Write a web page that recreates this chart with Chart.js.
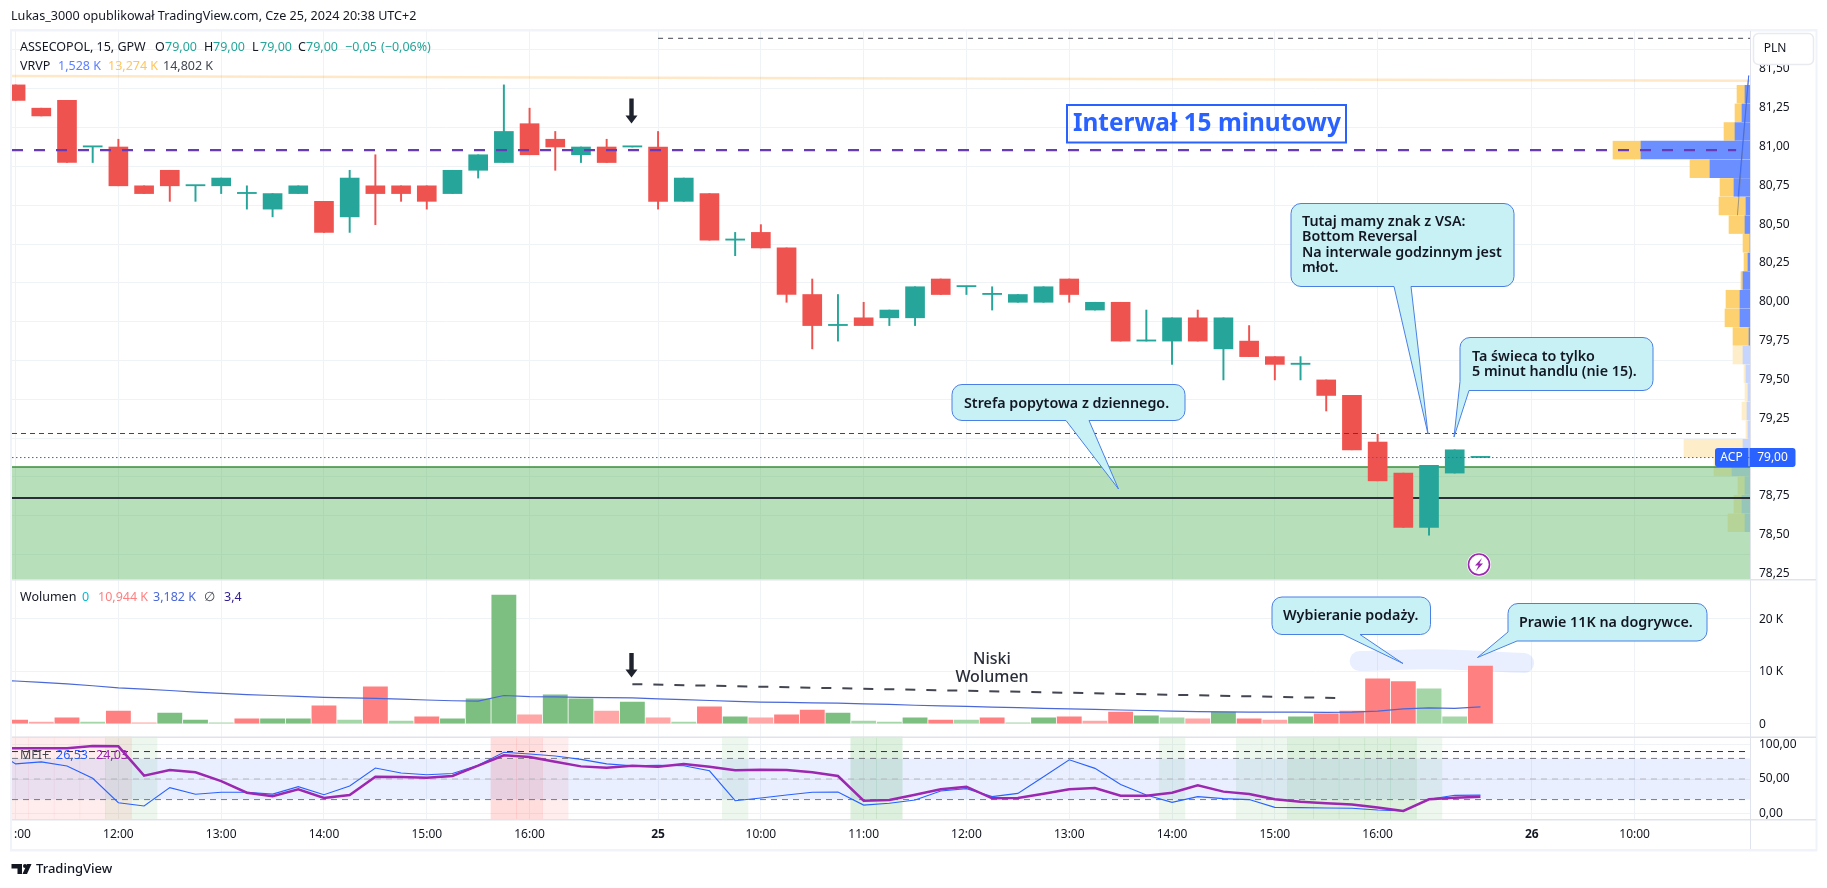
<!DOCTYPE html>
<html><head><meta charset="utf-8">
<style>html,body{margin:0;padding:0;background:#fff;overflow:hidden}canvas{display:block}</style>
<script src="https://cdn.jsdelivr.net/npm/chart.js@4/dist/chart.umd.js"></script>
</head><body>
<div style="position:absolute;left:0;top:0;width:1827px;height:888px"><canvas id="c" width="1827" height="888"></canvas></div>
<script>
const firstBar = -4;
const opens  = [81.40,81.25,81.30,81.00,81.00,80.75,80.85,80.75,80.75,80.70,80.60,80.70,80.65,80.55,80.75,80.75,80.75,80.70,80.85,80.90,81.15,81.05,80.95,81.00,81.00,81.00,80.65,80.70,80.40,80.45,80.35,80.05,79.85,79.90,79.90,79.90,80.15,80.10,80.05,80.00,80.00,80.15,79.95,80.00,79.75,79.75,79.90,79.70,79.75,79.65,79.60,79.50,79.40,79.10,78.90,78.55,78.90,79.00];
const highs  = [81.40,81.25,81.30,81.00,81.05,80.75,80.85,80.75,80.80,80.75,80.70,80.75,80.65,80.85,80.95,80.75,80.75,80.85,80.95,81.40,81.25,81.10,81.00,81.05,81.00,81.10,80.80,80.70,80.45,80.50,80.35,80.15,80.05,80.00,79.95,80.10,80.15,80.10,80.10,80.05,80.10,80.15,80.00,80.00,79.95,79.90,79.95,79.90,79.85,79.65,79.65,79.50,79.40,79.15,78.90,78.95,79.05,79.00];
const lows   = [81.30,81.20,80.90,80.90,80.75,80.70,80.65,80.65,80.70,80.60,80.55,80.70,80.45,80.45,80.50,80.65,80.60,80.70,80.80,80.90,80.95,80.85,80.90,80.90,81.00,80.60,80.65,80.40,80.30,80.35,80.00,79.70,79.75,79.85,79.85,79.85,80.05,80.05,79.95,80.00,80.00,80.00,79.95,79.75,79.75,79.60,79.75,79.50,79.65,79.50,79.50,79.30,79.05,78.85,78.55,78.50,78.90,79.00];
const closes = [81.30,81.20,80.90,81.00,80.75,80.70,80.75,80.75,80.80,80.70,80.70,80.75,80.45,80.80,80.70,80.70,80.65,80.85,80.95,81.10,80.95,81.00,81.00,80.90,81.00,80.65,80.80,80.40,80.40,80.35,80.05,79.85,79.85,79.85,79.95,80.10,80.05,80.10,80.05,80.05,80.10,80.05,80.00,79.75,79.75,79.90,79.75,79.90,79.65,79.60,79.60,79.40,79.05,78.85,78.55,78.95,79.05,79.00];

const volumes = [0.7,0.3,1.1,0.3,2.4,0.15,2.0,0.7,0.15,0.9,0.9,0.9,3.4,0.7,7.0,0.5,1.3,0.9,4.7,24.4,1.7,5.5,4.7,2.4,4.1,1.1,0.3,3.2,1.3,1.1,1.7,2.6,2.0,0.5,0.3,1.1,0.7,0.7,1.1,0.15,1.1,1.3,0.5,2.2,1.5,1.1,0.9,2.2,0.9,0.7,1.3,1.85,2.4,8.5,8.0,6.6,1.3,10.944];
const volumeKinds = ['R','r','R','g','R','r','G','G','g','R','G','G','R','g','R','g','R','G','G','G','r','G','G','r','G','r','g','R','G','r','R','R','G','g','g','G','R','g','R','g','G','R','r','R','G','g','r','G','R','r','G','R','R','R','R','g','g','R'];
const volumeMa = [8.1,7.85,7.55,7.2,6.8,6.55,6.3,6.0,5.75,5.5,5.35,5.2,5.0,4.9,4.8,4.65,4.5,4.35,4.3,5.35,5.15,5.1,5.0,4.95,4.9,4.7,4.55,4.4,4.25,4.1,4.05,3.95,3.9,3.75,3.65,3.5,3.4,3.3,3.15,3.05,2.9,2.8,2.7,2.6,2.5,2.4,2.3,2.25,2.2,2.2,2.2,2.15,2.2,2.4,2.8,3.0,2.9,3.18];
const volumeMaLead = 8.4;
const volumeTrendBars = [20,47.7];
const volumeTrendValues = [7.5,4.84];
const highlightBars = [48.3,51.5,54.7];
const highlightValues = [11.9,12.2,11.5];

const mfiFast = [72,75,69,51,15.5,10.7,37.4,27.7,30.6,30.6,28,38.8,27,39.8,66,58.7,56.3,58,70,89,86.4,83.5,78.6,72,69.4,70,69.4,62,18.4,22.3,26.7,30.6,31,12,14.6,19.4,32.5,36,24.3,29,53.4,78,65.5,42,26.7,16,24.3,21.4,20,8.7,8.3,7.8,7.3,4.9,3.4,20.4,26.2,26.53];
const mfiSlow = [95,95,95,98,97.6,54.9,63,59.7,47,30,25,35,22.3,26.7,53.4,53,52,54.4,69.4,84.5,82,75,68.4,66.5,69.4,68,72,68,62.6,63.6,63,59.7,54.4,18.4,19.4,27,35,38.8,21.8,22.3,28.6,35,36.9,25.7,25.7,30,40.8,31.6,28,20.4,17,14.6,13,8.3,3.4,20.4,22.8,24.03];
const mfiFastLead = 96;
const mfiSlowLead = 95;
const mfiRedA = [-4,-3,-2,-1,0,15,16,17];
const mfiRedB = [15,16];
const mfiGreenA = [0,1,24,29,30,41,44,45,46,47,48,49,50,51];
const mfiGreenB = [29,30,46,47,48,49,50];
const mfiLevelsGray = [80,50,20];

const vpPrices = [81.34,81.22,81.10,80.98,80.86,80.74,80.62,80.50,80.38,80.26,80.14,80.02,79.90,79.78,79.66,79.54,79.42,79.30,79.18,79.06,78.94,78.82,78.70,78.58];
const vpUp     = [5,8,15,109,40,16,4,5,0,2,7,10,10,1,7,4,2,3,2,7,18,5,8,5];
const vpDown   = [8,7,11,28,20,14,27,16,7,4,2,14,15,16,10,2,3,5,2,59,18,7,8,17];
const vpStrong = [1,1,1,1,1,1,1,1,1,1,1,1,1,1,0,0,0,0,0,0,0,0,0,0];

const priceTicks = [81.5,81.25,81,80.75,80.5,80.25,80,79.75,79.5,79.25,79,78.75,78.5,78.25];
const volumeTicks = [20,10,0];
const mfiTicks = [100,50,0];
const timeTickBars = [-4,0,4,8,12,16,21,25,29,33,37,41,45,49,55,59];
const timeTickLabels = ['11:00','12:00','13:00','14:00','15:00','16:00','25','10:00','11:00','12:00','13:00','14:00','15:00','16:00','26','10:00'];
const dayLabels = ['25','26'];

const pocPrice = 80.98, topDashPrice = 81.70, resistPrice = 79.155, lastPrice = 79.00;
const zoneTop = 78.94, zoneMid = 78.74;
const orangeLine = [81.457,81.427];
const xMin = -4.14, xMax = 63.49;

const F = '"Noto Sans"';
const RED='#ef5350', TEAL='#26a69a';
const bars = opens.map((_,k)=>k+firstBar);
const span = (p,pv)=>[{x:xMin,y:p},{x:xMax,y:pv===undefined?p:pv}];
const volCol = {R:'#ff8080',r:'#ffa6a6',G:'#7dbf80',g:'#a5d6a7'};
const line = (data,extra)=>Object.assign({type:'line',data,pointRadius:0,borderWidth:1,fill:false,tension:0},extra);
const grid = '#f0f3f6';

function txt(ctx,s,x,y,font,color,align){ctx.font=font;ctx.fillStyle=color;ctx.textAlign=align||'left';ctx.textBaseline='middle';ctx.fillText(s,x,y);}
function callout(ctx,b,lines,font,lh){
  const {x,y,w,h,r,base,tip,corner}=b;
  ctx.beginPath();ctx.moveTo(x+r,y);
  ctx.arcTo(x+w,y,x+w,y+h,r);ctx.arcTo(x+w,y+h,x,y+h,r);
  ctx.lineTo(base[0][0],base[0][1]);ctx.lineTo(tip[0],tip[1]);ctx.lineTo(base[1][0],base[1][1]);
  if(!corner){ctx.arcTo(x,y+h,x,y,r);}
  ctx.arcTo(x,y,x+w,y,r);ctx.closePath();
  ctx.fillStyle='#c8f1f6';ctx.fill();ctx.strokeStyle='#4a7fe6';ctx.lineWidth=1;ctx.stroke();
  lines.forEach((t,i)=>txt(ctx,t.s,t.x,t.y,font,'#131722'));
}
function arrow(ctx,cx,top,bot){
  ctx.fillStyle='#1e222d';ctx.beginPath();
  ctx.moveTo(cx-2.2,top);ctx.lineTo(cx+2.2,top);ctx.lineTo(cx+2.2,bot-8);ctx.lineTo(cx+6,bot-8);ctx.lineTo(cx,bot);ctx.lineTo(cx-6,bot-8);ctx.lineTo(cx-2.2,bot-8);ctx.closePath();ctx.fill();
}
const overlay={id:'overlay',afterDatasetsDraw(chart){
  const ctx=chart.ctx;ctx.save();
  arrow(ctx,631.5,98.5,123.5);arrow(ctx,631.5,653,677.5);
  ctx.strokeStyle='#2962ff';ctx.lineWidth=2;ctx.strokeRect(1067,105,279,37.5);
  txt(ctx,'Interwał 15 minutowy',1073,124,'bold 24.4px '+F,'#2962ff');
  const cf='600 14.3px '+F;
  callout(ctx,{x:1291,y:203.5,w:223,h:83,r:10,base:[[1411,286.5],[1394,286.5]],tip:[1428,434]},[
    {s:'Tutaj mamy znak z VSA:',x:1302,y:221.5},{s:'Bottom Reversal',x:1302,y:237},{s:'Na interwale godzinnym jest',x:1302,y:252.5},{s:'młot.',x:1302,y:268}],cf);
  callout(ctx,{x:1460,y:337.5,w:193,h:53,r:10,base:[[1469,390.5],[1460,381.5]],tip:[1454,437],corner:true},[
    {s:'Ta świeca to tylko',x:1472,y:356.5},{s:'5 minut handlu (nie 15).',x:1472,y:371.5}],cf);
  callout(ctx,{x:952,y:384.5,w:233,h:36,r:10,base:[[1089,420.5],[1066,420.5]],tip:[1118.5,489]},[
    {s:'Strefa popytowa z dziennego.',x:964,y:403.5}],cf);
  callout(ctx,{x:1272,y:597,w:158.5,h:37.5,r:10,base:[[1360,634.5],[1343,634.5]],tip:[1403,663.5]},[
    {s:'Wybieranie podaży.',x:1283,y:616}],cf);
  callout(ctx,{x:1508,y:603.5,w:199,h:37.5,r:10,base:[[1517,641],[1508,632]],tip:[1477.5,657.5],corner:true},[
    {s:'Prawie 11K na dogrywce.',x:1519,y:622.5}],cf);
  txt(ctx,'Niski',992,659.5,'500 16px '+F,'#2a2e39','center');
  txt(ctx,'Wolumen',992,677,'500 16px '+F,'#2a2e39','center');
  ctx.beginPath();ctx.arc(1479,564.5,12,0,Math.PI*2);ctx.fillStyle='#fff';ctx.fill();
  ctx.beginPath();ctx.arc(1479,564.5,10.5,0,Math.PI*2);ctx.strokeStyle='#9c27b0';ctx.lineWidth=1.6;ctx.stroke();
  ctx.fillStyle='#9c27b0';ctx.beginPath();ctx.moveTo(1482,558);ctx.lineTo(1475,565.5);ctx.lineTo(1478.6,565.5);ctx.lineTo(1476,571);ctx.lineTo(1483,563.5);ctx.lineTo(1479.4,563.5);ctx.closePath();ctx.fill();
  ctx.restore();
},afterDraw(chart){
  const ctx=chart.ctx;ctx.save();
  // mask the clipped first time label and pane edges
  ctx.fillStyle='#fff';ctx.fillRect(0,821,13.7,27);
  ctx.fillStyle='#f0f3fa';
  ctx.fillRect(10,29,1807,2.5);ctx.fillRect(10,849,1807,2.5);ctx.fillRect(10,29,2,822);ctx.fillRect(1815.5,29,2,822);
  ctx.fillStyle='#e0e3eb';
  ctx.fillRect(12,579,1804,1.5);ctx.fillRect(12,736.5,1804,1.5);ctx.fillRect(12,819,1804,1.5);ctx.fillRect(1750,31,1,818);
  txt(ctx,'Lukas_3000 opublikował TradingView.com, Cze 25, 2024 20:38 UTC+2',11,16,'12.6px '+F,'#131722');
  const g='#26a69a',d='#131722',sf='12.5px '+F;
  [['ASSECOPOL, 15, GPW',20,d],['O',155,d],['79,00',165,g],['H',204,d],['79,00',213,g],['L',252,d],['79,00',260,g],['C',298,d],['79,00',306,g],['−0,05',345,g],['(−0,06%)',381,g]].forEach(t=>txt(ctx,t[0],t[1],47,sf,t[2]));
  [['VRVP',20,d],['1,528 K',58,'#5b7fff'],['13,274 K',108,'#ffc65c'],['14,802 K',163,'#434651']].forEach(t=>txt(ctx,t[0],t[1],66.5,sf,t[2]));
  [['Wolumen',20,d],['0',82,'#00bcd4'],['10,944 K',98,'#ff8080'],['3,182 K',153,'#4a68d8'],['∅',204,'#434651'],['3,4',224,'#311b92']].forEach(t=>txt(ctx,t[0],t[1],597,sf,t[2]));
  [['MFI+',20,'#434651'],['26,53',56,'#2962ff'],['24,03',96,'#9c27b0']].forEach(t=>txt(ctx,t[0],t[1],755.5,sf,t[2]));
  ctx.fillStyle='#fff';ctx.strokeStyle='#e8eaf0';ctx.lineWidth=1.5;ctx.beginPath();ctx.roundRect(1753.5,33.5,60,31,5);ctx.fill();ctx.stroke();
  txt(ctx,'PLN',1775,48.5,'12px '+F,'#131722','center');
  ctx.fillStyle='#2962ff';ctx.beginPath();ctx.roundRect(1715,448,33.5,19,[3,0,0,3]);ctx.fill();
  ctx.beginPath();ctx.roundRect(1749.5,448,46,19,[0,3,3,0]);ctx.fill();
  txt(ctx,'ACP',1731.5,457.5,'12px '+F,'#fff','center');
  txt(ctx,'79,00',1772.5,457.5,'12px '+F,'#fff','center');
  ctx.fillStyle='#131722';ctx.beginPath();
  ctx.moveTo(11.5,864);ctx.lineTo(22,864);ctx.lineTo(22,874);ctx.lineTo(17.5,874);ctx.lineTo(17.5,868.5);ctx.lineTo(11.5,868.5);ctx.closePath();ctx.fill();
  ctx.beginPath();ctx.arc(25,866,2,0,Math.PI*2);ctx.fill();
  ctx.beginPath();ctx.moveTo(31.5,864);ctx.lineTo(27,874);ctx.lineTo(22.5,874);ctx.lineTo(27,864);ctx.closePath();ctx.fill();
  txt(ctx,'TradingView',36,869,'500 13px '+F,'#131722');
  ctx.restore();
}};

const yBase={type:'linear',position:'right',stack:'panes',beginAtZero:false,offset:false,
  border:{display:false},afterFit(s){s.width=67;}};
const tickBase={color:'#131722',padding:9,autoSkip:false,font:{family:F,size:12}};

new Chart(document.getElementById('c'),{
  type:'bar',
  data:{datasets:[
    {label:'VRVP up',indexAxis:'y',xAxisID:'xVp',yAxisID:'y',grouped:false,order:95,barThickness:17.8,
      data:vpPrices.map((p,k)=>({y:p,x:[0,vpUp[k]]})),
      backgroundColor:vpStrong.map(s=>s?'#6b8fff':'#c6d5fd')},
    {label:'VRVP down',indexAxis:'y',xAxisID:'xVp',yAxisID:'y',grouped:false,order:95,barThickness:17.8,
      data:vpPrices.map((p,k)=>({y:p,x:[vpUp[k],vpUp[k]+vpDown[k]]})),
      backgroundColor:vpStrong.map(s=>s?'#fdd16f':'#fdedc9')},
    line(span(orangeLine[0],orangeLine[1]),{label:'orange',yAxisID:'y',borderColor:'rgba(255,152,0,.22)',borderWidth:2.5,order:92}),
    line(span(zoneTop),{label:'zone',yAxisID:'y',borderColor:'#388e3c',borderWidth:1.5,fill:'start',backgroundColor:'rgba(76,175,80,.4)',order:90}),
    line(span(zoneMid),{label:'zone mid',yAxisID:'y',borderColor:'#2a2e39',borderWidth:2,order:88}),
    line(span(topDashPrice).map((p,k)=>k?p:{x:21,y:p.y}),{label:'top dash',yAxisID:'y',borderColor:'#434651',borderDash:[5,5],order:87}),
    {label:'wicks',yAxisID:'y',grouped:false,order:60,barThickness:1.3,
      data:bars.map((b,k)=>({x:b,y:[lows[k],highs[k]]})),
      backgroundColor:opens.map((o,k)=>closes[k]>=o?TEAL:RED)},
    {label:'bodies',yAxisID:'y',grouped:false,order:50,barThickness:19,minBarLength:1.2,
      data:bars.map((b,k)=>({x:b,y:[opens[k],closes[k]]})),
      backgroundColor:opens.map((o,k)=>closes[k]>=o?TEAL:RED)},
    line([{x:xMin,y:resistPrice},{x:63.1,y:resistPrice}],{label:'resist',yAxisID:'y',borderColor:'#434651',borderDash:[5,4],order:30}),
    line([{x:xMin,y:pocPrice},{x:62.95,y:pocPrice}],{label:'poc',yAxisID:'y',borderColor:'#673ab7',borderWidth:2.3,borderDash:[11,11],order:20}),
    line(span(lastPrice),{label:'last',yAxisID:'y',borderColor:'#2962ff',borderDash:[1.5,2.5],order:18}),
    line([{x:63.03,y:80.68},{x:63.44,y:81.46}],{label:'vp blue',yAxisID:'y',borderColor:'#3f6cf5',order:16}),
    line([{x:63.0,y:80.56},{x:63.44,y:81.46}],{label:'vp grey',yAxisID:'y',borderColor:'rgba(120,123,134,.7)',order:17}),
    line(highlightBars.map((x,k)=>({x,y:highlightValues[k]})),{label:'highlight',yAxisID:'yVol',borderColor:'rgba(41,98,255,.1)',borderWidth:20,borderCapStyle:'round',tension:.4,order:70}),
    {label:'Wolumen',yAxisID:'yVol',grouped:false,order:65,barThickness:24.2,
      data:bars.map((b,k)=>({x:b,y:volumes[k]})),
      backgroundColor:volumeKinds.map(k=>volCol[k])},
    line([{x:firstBar-1,y:volumeMaLead}].concat(bars.map((b,k)=>({x:b,y:volumeMa[k]}))),{label:'vol ma',yAxisID:'yVol',borderColor:'#4a68d8',borderWidth:1.2,order:40}),
    line(volumeTrendBars.map((x,k)=>({x,y:volumeTrendValues[k]})),{label:'vol trend',yAxisID:'yVol',borderColor:'#434651',borderWidth:2,borderDash:[10,11],order:35}),
    {label:'red a',yAxisID:'yMfi',grouped:false,order:85,barThickness:25.7,data:mfiRedA.map(x=>({x,y:[-20,120]})),backgroundColor:'rgba(255,82,82,.1)'},
    {label:'red b',yAxisID:'yMfi',grouped:false,order:85,barThickness:25.7,data:mfiRedB.map(x=>({x,y:[-20,120]})),backgroundColor:'rgba(255,82,82,.1)'},
    {label:'green a',yAxisID:'yMfi',grouped:false,order:85,barThickness:25.7,data:mfiGreenA.map(x=>({x,y:[-20,120]})),backgroundColor:'rgba(76,175,80,.1)'},
    {label:'green b',yAxisID:'yMfi',grouped:false,order:85,barThickness:25.7,data:mfiGreenB.map(x=>({x,y:[-20,120]})),backgroundColor:'rgba(76,175,80,.1)'},
    line(span(mfiLevelsGray[0]),{label:'band',yAxisID:'yMfi',borderWidth:0,fill:{value:mfiLevelsGray[2]},backgroundColor:'rgba(41,98,255,.1)',order:84}),
    line(span(90),{label:'l90',yAxisID:'yMfi',borderColor:'#311b92',borderDash:[6,5],order:45}),
    line(span(mfiLevelsGray[0]),{label:'l80',yAxisID:'yMfi',borderColor:'#787b86',borderDash:[6,5],order:45}),
    line(span(mfiLevelsGray[1]),{label:'l50',yAxisID:'yMfi',borderColor:'#b2b5be',borderDash:[6,5],order:45}),
    line(span(mfiLevelsGray[2]),{label:'l20',yAxisID:'yMfi',borderColor:'#787b86',borderDash:[6,5],order:45}),
    line([{x:firstBar-1,y:mfiFastLead}].concat(bars.map((b,k)=>({x:b,y:mfiFast[k]}))),{label:'mfi fast',yAxisID:'yMfi',borderColor:'#2962ff',borderWidth:1.1,order:12}),
    line([{x:firstBar-1,y:mfiSlowLead}].concat(bars.map((b,k)=>({x:b,y:mfiSlow[k]}))),{label:'mfi slow',yAxisID:'yMfi',borderColor:'#9c27b0',borderWidth:2.5,order:10})
  ]},
  options:{
    responsive:false,animation:false,events:[],
    layout:{autoPadding:false,padding:{left:12,top:31,right:10,bottom:38}},
    plugins:{legend:{display:false},tooltip:{enabled:false}},
    scales:{
      x:{type:'linear',position:'bottom',min:xMin,max:xMax,offset:false,
        grid:{color:grid,offset:false,drawTicks:false},border:{display:false},
        afterBuildTicks(s){s.ticks=timeTickBars.map(value=>({value}));},
        afterFit(s){s.height=31;s.paddingLeft=0;s.paddingRight=0;},
        ticks:{autoSkip:false,maxRotation:0,minRotation:0,padding:8,color:'#131722',includeBounds:false,
          callback(v){return timeTickLabels[timeTickBars.indexOf(v)];},
          font(c){const t=timeTickLabels[timeTickBars.indexOf(c.tick&&c.tick.value)];return {family:F,size:12,weight:dayLabels.includes(t)?'bold':'normal'};}}},
      xVp:{type:'linear',display:false,reverse:true,min:0,max:1738,offset:false,grid:{display:false}},
      y:Object.assign({},yBase,{weight:0,stackWeight:548,min:78.218,max:81.747,grid:{color:grid,drawTicks:false},
        afterBuildTicks(s){s.ticks=priceTicks.map(value=>({value}));},
        ticks:Object.assign({},tickBase,{labelOffset:-0.5,callback:v=>v.toFixed(2).replace('.',',')})}),
      yVol:Object.assign({},yBase,{weight:1,stackWeight:157.5,min:-2.43,max:27.46,grid:{color:grid,drawTicks:false},
        afterBuildTicks(s){s.ticks=volumeTicks.map(value=>({value}));},
        ticks:Object.assign({},tickBase,{labelOffset:1,callback:v=>v===0?'0':v+' K'})}),
      yMfi:Object.assign({},yBase,{weight:2,stackWeight:82.5,min:-8.3,max:111.95,grid:{color:grid,drawTicks:false},
        afterBuildTicks(s){s.ticks=mfiTicks.map(value=>({value}));},
        ticks:Object.assign({},tickBase,{callback:v=>v.toFixed(2).replace('.',',')})})
    }
  },
  plugins:[overlay]
});
</script>
</body></html>
